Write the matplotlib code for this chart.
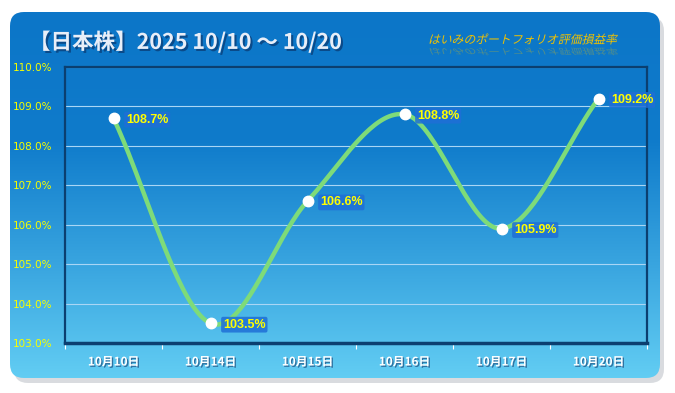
import numpy as np
import matplotlib
matplotlib.use("Agg")
import matplotlib.pyplot as plt
import matplotlib.patheffects as pe
from matplotlib.patches import FancyBboxPatch
from matplotlib.colors import LinearSegmentedColormap
from matplotlib.transforms import Affine2D

plt.rcParams['font.family'] = ['Noto Sans CJK JP', 'DejaVu Sans']

# data
dates = ["10月10日", "10月14日", "10月15日", "10月16日", "10月17日", "10月20日"]
ratio = [108.7, 103.5, 106.6, 108.8, 105.9, 109.2]
yticks = [103, 104, 105, 106, 107, 108, 109, 110]

title = "【日本株】2025 10/10 ～ 10/20"
subtitle = "はいみのポートフォリオ評価損益率"


def catmull_rom(xs, ys, n=40):
    # smooth line through the points, like the spreadsheet "smoothed line"
    xs = np.asarray(xs, float)
    ys = np.asarray(ys, float)
    px = np.concatenate([[2 * xs[0] - xs[1]], xs, [2 * xs[-1] - xs[-2]]])
    py = np.concatenate([[2 * ys[0] - ys[1]], ys, [2 * ys[-1] - ys[-2]]])
    outx, outy = [], []
    t = np.linspace(0, 1, n)
    for i in range(1, len(px) - 2):
        for p, out in ((px, outx), (py, outy)):
            p0, p1, p2, p3 = p[i - 1], p[i], p[i + 1], p[i + 2]
            out.extend(0.5 * ((2 * p1) + (-p0 + p2) * t
                              + (2 * p0 - 5 * p1 + 4 * p2 - p3) * t ** 2
                              + (-p0 + 3 * p1 - 3 * p2 + p3) * t ** 3))
    return np.array(outx), np.array(outy)


class Warped(pe.AbstractPathEffect):
    # draws the glyph path through an extra transform (slant / mirror)
    def __init__(self, pre, alpha=1.0):
        super().__init__()
        self.pre = pre
        self.alpha = alpha

    def draw_path(self, renderer, gc, tpath, affine, rgbFace=None):
        gc0 = renderer.new_gc()
        gc0.copy_properties(gc)
        gc0.set_alpha(self.alpha)
        renderer.draw_path(gc0, tpath, self.pre + affine, rgbFace)
        gc0.restore()


W, H = 675, 393
fig = plt.figure(figsize=(W / 100, H / 100), dpi=100)
fig.patch.set_facecolor("white")

# background panel with gradient
bg = fig.add_axes([0, 0, 1, 1])
bg.set_xlim(0, W)
bg.set_ylim(H, 0)
bg.axis("off")

shadow = FancyBboxPatch((14, 17), 650, 366, boxstyle="round,pad=0,rounding_size=14",
                        facecolor="#c9cdd2", edgecolor="none", alpha=0.7)
bg.add_patch(shadow)
panel = FancyBboxPatch((10, 12), 650, 366, boxstyle="round,pad=0,rounding_size=14",
                       facecolor="none", edgecolor="none")
bg.add_patch(panel)
cmap = LinearSegmentedColormap.from_list(
    "bluegrad", [(0, "#0c76c8"), (0.35, "#0f7bcb"), (0.7, "#3aa6e0"), (1, "#62cdf3")])
grad = np.linspace(0, 1, 256).reshape(-1, 1)
im = bg.imshow(grad, cmap=cmap, extent=(10, 660, 378, 12), aspect="auto", zorder=1)
im.set_clip_path(panel)

bg.text(29, 42, title, fontsize=15.5, fontweight="bold", color="#e8eef8",
        va="center", ha="left", zorder=3,
        path_effects=[pe.withSimplePatchShadow(offset=(1.5, -1.5), shadow_rgbFace="#0a3f7a", alpha=0.8)])
slant = Affine2D().skew_deg(14, 0)
mirror = Affine2D().skew_deg(14, 0).scale(1, -0.7).translate(0, -40)
bg.text(428, 40, subtitle, fontsize=8.5, color="#f2c200",
        va="center", ha="left", zorder=3,
        path_effects=[Warped(mirror, alpha=0.3), Warped(slant)])

# plot area
left, right, top, bottom = 65, 647, 67, 343
ax = fig.add_axes([left / W, 1 - bottom / H, (right - left) / W, (bottom - top) / H])
ax.patch.set_alpha(0)
ax.set_ylim(103, 110)
ax.set_xlim(-0.5, len(dates) - 0.5)
ax.set_yticks(yticks)
ax.set_yticklabels([f"{v:.1f}%" for v in yticks], color="#f6ff00", fontsize=7.5,
                   family=["Liberation Sans Narrow", "DejaVu Sans"])
ax.tick_params(axis="y", length=0, pad=9)
ax.set_xticks(range(len(dates)))
ax.set_xticklabels(dates, color="white", fontsize=8.5, fontweight="bold")
for lab in ax.get_xticklabels():
    lab.set_path_effects([pe.withSimplePatchShadow(offset=(1, -1), shadow_rgbFace="#1c4f80", alpha=0.7)])
ax.tick_params(axis="x", length=0, pad=9)
ax.set_xticks(np.arange(-0.5, len(dates), 1), minor=True)
ax.tick_params(axis="x", which="minor", length=4, color="white", width=0.8, direction="out")
ax.grid(axis="y", color="#a9d6f5", linewidth=0.8)
ax.set_axisbelow(True)
for s in ax.spines.values():
    s.set_color("#0b3f70")
    s.set_linewidth(1.6)
ax.spines["bottom"].set_linewidth(2.5)

sx, sy = catmull_rom(range(len(ratio)), ratio)
ax.plot(sx, sy, color="#7edb79", linewidth=3.2, solid_capstyle="round", zorder=3, clip_on=False)
ax.plot(range(len(ratio)), ratio, "o", color="white", markersize=7.5, zorder=4, clip_on=False)

for i, v in enumerate(ratio):
    ax.annotate(f"{v:.1f}%", (i, v), xytext=(9, -1), textcoords="offset points",
                color="#ffff00", fontsize=9, fontweight="bold", va="center", ha="left", zorder=5,
                family=["Liberation Sans", "DejaVu Sans"],
                bbox=dict(boxstyle="round,pad=0.15", facecolor="#1f6fd6", edgecolor="none", alpha=0.85))

fig.savefig("out.png", dpi=100)
